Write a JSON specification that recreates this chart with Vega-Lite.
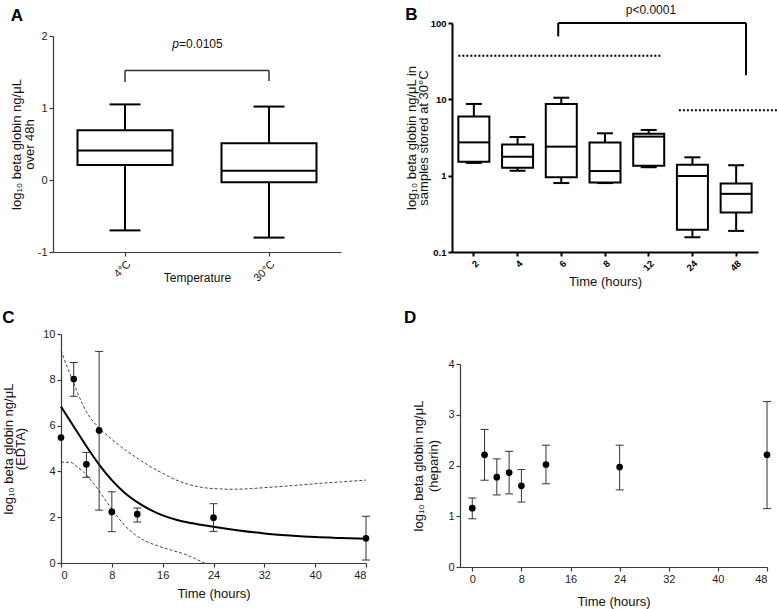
{
  "$schema": "https://vega.github.io/schema/vega-lite/v6.json",
  "padding": {"left": 2, "top": 3, "right": 2, "bottom": 2},
  "background": "white",
  "config": {
    "font": "Liberation Sans",
    "view": {"stroke": null},
    "axis": {"grid": false, "domainColor": "#3a3a3a", "tickColor": "#3a3a3a", "domainWidth": 1.2, "tickWidth": 1.2, "tickSize": 4, "labelColor": "#222", "titleColor": "#111", "labelFontSize": 11, "titleFontSize": 13, "titleFontWeight": "normal", "labelPadding": 2, "titleLineHeight": 12.5},
    "title": {"fontSize": 17, "fontWeight": "bold", "anchor": "start", "baseline": "bottom", "color": "black", "frame": "bounds"}
  },
  "vconcat": [
    {
      "concat": [
        {
          "width": 280, "height": 229,
          "title": {"text": "A", "offset": -1.5},
          "layer": [
            {
              "data": {"values": [
                {"temp": "4°C", "min": -0.7, "q1": 0.21, "median": 0.41, "q3": 0.69, "max": 1.05},
                {"temp": "30°C", "min": -0.8, "q1": -0.03, "median": 0.13, "q3": 0.51, "max": 1.02}
              ]},
              "layer": [
                {"mark": {"type": "rule", "color": "black", "strokeWidth": 2},
                 "encoding": {
                   "x": {"field": "temp", "type": "nominal", "scale": {"domain": ["4°C", "30°C"], "range": [-8, 280], "paddingInner": 0, "paddingOuter": 0}, "axis": {"labelAngle": -45, "title": "Temperature", "titleFontSize": 12, "titlePadding": -11}},
                   "y": {"field": "min", "type": "quantitative", "scale": {"domain": [-1, 2], "range": [229, 13], "nice": false}, "axis": {"offset": 8, "values": [-1, -0.5, 0, 0.5, 1, 1.5, 2], "title": ["log₁₀ beta globin ng/μL", "over 48h"], "titlePadding": 1, "labelExpr": "replace(format(datum.value, '~g'), '−', '-')"}},
                   "y2": {"field": "max"}}},
                {"mark": {"type": "bar", "fill": "white", "stroke": "black", "strokeWidth": 2, "size": 95},
                 "encoding": {"x": {"field": "temp", "type": "nominal"}, "y": {"field": "q1", "type": "quantitative"}, "y2": {"field": "q3"}}},
                {"mark": {"type": "tick", "color": "black", "size": 95, "thickness": 2, "opacity": 1},
                 "encoding": {"x": {"field": "temp", "type": "nominal"}, "y": {"field": "median", "type": "quantitative"}}},
                {"mark": {"type": "tick", "color": "black", "size": 31, "thickness": 2, "opacity": 1},
                 "encoding": {"x": {"field": "temp", "type": "nominal"}, "y": {"field": "min", "type": "quantitative"}}},
                {"mark": {"type": "tick", "color": "black", "size": 31, "thickness": 2, "opacity": 1},
                 "encoding": {"x": {"field": "temp", "type": "nominal"}, "y": {"field": "max", "type": "quantitative"}}}
              ]
            },
            {
              "data": {"values": [{"temp": "4°C", "lo": 1.36, "hi": 1.52}, {"temp": "30°C", "lo": 1.375, "hi": 1.52}]},
              "mark": {"type": "rule", "color": "#333", "strokeWidth": 1.5},
              "encoding": {"x": {"field": "temp", "type": "nominal"}, "y": {"field": "lo", "type": "quantitative"}, "y2": {"field": "hi"}}
            },
            {
              "data": {"values": [{"temp": "4°C", "temp2": "30°C", "lo": 1.52}]},
              "mark": {"type": "rule", "color": "#333", "strokeWidth": 1.5},
              "encoding": {"x": {"field": "temp", "type": "nominal"}, "x2": {"field": "temp2"}, "y": {"field": "lo", "type": "quantitative"}}
            },
            {
              "data": {"values": [{"temp": "4°C", "lo": 1.89, "label": "p", "rest": "=0.0105"}]},
              "layer": [
                {"mark": {"type": "text", "fontSize": 12, "fontStyle": "italic", "align": "right", "dx": -18, "color": "#111"},
                 "encoding": {"x": {"field": "temp", "type": "nominal", "bandPosition": 1}, "y": {"field": "lo", "type": "quantitative"}, "text": {"field": "label"}}},
                {"mark": {"type": "text", "fontSize": 12, "align": "left", "dx": -18, "color": "#111"},
                 "encoding": {"x": {"field": "temp", "type": "nominal", "bandPosition": 1}, "y": {"field": "lo", "type": "quantitative"}, "text": {"field": "rest"}}}
              ]
            }
          ]
        },
        {
          "width": 306, "height": 229,
          "title": {"text": "B", "offset": -20},
          "layer": [
            {
              "data": {"values": [
                {"hours": "2", "min": 1.47, "q1": 1.52, "median": 2.73, "q3": 5.94, "max": 8.7},
                {"hours": "4", "min": 1.16, "q1": 1.27, "median": 1.77, "q3": 2.57, "max": 3.21},
                {"hours": "6", "min": 0.8, "q1": 0.95, "median": 2.4, "q3": 8.7, "max": 10.5},
                {"hours": "8", "min": 0.8, "q1": 0.815, "median": 1.15, "q3": 2.71, "max": 3.59},
                {"hours": "12", "min": 1.29, "q1": 1.35, "median": 3.25, "q3": 3.55, "max": 3.97},
                {"hours": "24", "min": 0.156, "q1": 0.195, "median": 0.99, "q3": 1.39, "max": 1.74},
                {"hours": "48", "min": 0.189, "q1": 0.329, "median": 0.578, "q3": 0.79, "max": 1.37}
              ]},
              "layer": [
                {"mark": {"type": "rule", "color": "black", "strokeWidth": 2},
                 "encoding": {
                   "x": {"field": "hours", "type": "nominal", "scale": {"domain": ["2", "4", "6", "8", "12", "24", "48"], "paddingInner": 0, "paddingOuter": 0}, "axis": {"labelAngle": -45, "title": "Time (hours)", "titlePadding": 3, "labelFontWeight": "bold", "labelFontSize": 9.5, "labelColor": "black", "domainColor": "black", "tickColor": "black", "domainWidth": 2, "tickWidth": 2}},
                   "y": {"field": "min", "type": "quantitative", "scale": {"type": "log", "domain": [0.1, 100], "nice": false}, "axis": {"values": [0.1, 1, 10, 100], "labelExpr": "format(datum.value, '~g')", "title": ["log₁₀ beta globin ng/μL in", "samples stored at 30°C"], "titlePadding": 0, "titleLineHeight": 12, "labelFontWeight": "bold", "labelFontSize": 9.5, "labelColor": "black", "domainColor": "black", "tickColor": "black", "domainWidth": 2, "tickWidth": 2}},
                   "y2": {"field": "max"}}},
                {"mark": {"type": "bar", "fill": "white", "stroke": "black", "strokeWidth": 2, "size": 31},
                 "encoding": {"x": {"field": "hours", "type": "nominal"}, "y": {"field": "q1", "type": "quantitative"}, "y2": {"field": "q3"}}},
                {"mark": {"type": "tick", "color": "black", "size": 31, "thickness": 2, "opacity": 1},
                 "encoding": {"x": {"field": "hours", "type": "nominal"}, "y": {"field": "median", "type": "quantitative"}}},
                {"mark": {"type": "tick", "color": "black", "size": 16, "thickness": 2, "opacity": 1},
                 "encoding": {"x": {"field": "hours", "type": "nominal"}, "y": {"field": "min", "type": "quantitative"}}},
                {"mark": {"type": "tick", "color": "black", "size": 16, "thickness": 2, "opacity": 1},
                 "encoding": {"x": {"field": "hours", "type": "nominal"}, "y": {"field": "max", "type": "quantitative"}}}
              ]
            },
            {
              "data": {"values": [{"hours": "6", "lo": 66.8, "hi": 100}]},
              "mark": {"type": "rule", "color": "black", "strokeWidth": 2},
              "encoding": {"x": {"field": "hours", "type": "nominal", "bandPosition": 0.43}, "y": {"field": "lo", "type": "quantitative"}, "y2": {"field": "hi"}}
            },
            {
              "data": {"values": [{"hours": "48", "lo": 20.7, "hi": 100}]},
              "mark": {"type": "rule", "color": "black", "strokeWidth": 2},
              "encoding": {"x": {"field": "hours", "type": "nominal", "bandPosition": 0.725}, "y": {"field": "lo", "type": "quantitative"}, "y2": {"field": "hi"}}
            },
            {
              "data": {"values": [{"hours": "6", "hours2": "48", "lo": 100}]},
              "mark": {"type": "rule", "color": "black", "strokeWidth": 2},
              "encoding": {"x": {"field": "hours", "type": "nominal", "bandPosition": 0.43}, "x2": {"field": "hours2", "bandPosition": 0.725}, "y": {"field": "lo", "type": "quantitative"}}
            },
            {
              "data": {"values": [{"hours": "2", "hours2": "12", "lo": 37.1}]},
              "mark": {"type": "rule", "color": "black", "strokeWidth": 2, "strokeDash": [2, 2]},
              "encoding": {"x": {"field": "hours", "type": "nominal", "bandPosition": 0.145}, "x2": {"field": "hours2", "bandPosition": 0.77}, "y": {"field": "lo", "type": "quantitative"}}
            },
            {
              "data": {"values": [{"hours": "24", "hours2": "48", "lo": 7.17}]},
              "mark": {"type": "rule", "color": "black", "strokeWidth": 2, "strokeDash": [2, 2]},
              "encoding": {"x": {"field": "hours", "type": "nominal", "bandPosition": 0.19}, "x2": {"field": "hours2", "bandPosition": 1.46}, "y": {"field": "lo", "type": "quantitative"}}
            },
            {
              "data": {"values": [{"hours": "12", "lo": 150, "label": "p<0.0001"}]},
              "mark": {"type": "text", "fontSize": 12, "align": "center", "baseline": "middle", "color": "#111"},
              "encoding": {"x": {"field": "hours", "type": "nominal", "bandPosition": 0.55}, "y": {"field": "lo", "type": "quantitative"}, "text": {"field": "label"}}
            }
          ]
        }
      ],
      "columns": 2,
      "align": "none",
      "spacing": 56
    },
    {
      "concat": [
        {
          "width": 305, "height": 229,
          "title": {"text": "C", "offset": 1},
          "layer": [
            {
              "data": {"values": [
                {"t": 0, "v": 9.28}, {"t": 2, "v": 7.85}, {"t": 4, "v": 6.6}, {"t": 6, "v": 5.9}, {"t": 8, "v": 5.4}, {"t": 10, "v": 4.96}, {"t": 12, "v": 4.58}, {"t": 14, "v": 4.22}, {"t": 16, "v": 3.92}, {"t": 18, "v": 3.64}, {"t": 20, "v": 3.44}, {"t": 22, "v": 3.31}, {"t": 24, "v": 3.25}, {"t": 27, "v": 3.22}, {"t": 30, "v": 3.25}, {"t": 32, "v": 3.29}, {"t": 36, "v": 3.37}, {"t": 40, "v": 3.46}, {"t": 44, "v": 3.54}, {"t": 48, "v": 3.62}
              ]},
              "mark": {"type": "line", "interpolate": "monotone", "color": "#444", "strokeWidth": 1, "strokeDash": [3, 2]},
              "encoding": {
                "x": {"field": "t", "type": "quantitative", "scale": {"domain": [0, 48], "nice": false}, "axis": {"values": [0, 8, 16, 24, 32, 40, 48], "title": "Time (hours)", "labelAngle": 0, "titlePadding": 7}},
                "y": {"field": "v", "type": "quantitative", "scale": {"domain": [0, 10], "nice": false}, "axis": {"values": [0, 2, 4, 6, 8, 10], "title": ["log₁₀ beta globin ng/μL", "(EDTA)"], "titlePadding": 15}}
              }
            },
            {
              "data": {"values": [
                {"t": 0, "v": 4.4}, {"t": 1.4, "v": 4.4}, {"t": 2.7, "v": 4.17}, {"t": 4, "v": 3.85}, {"t": 4.8, "v": 3.58}, {"t": 6, "v": 3.15}, {"t": 6.9, "v": 2.78}, {"t": 8, "v": 2.35}, {"t": 9, "v": 1.98}, {"t": 10, "v": 1.65}, {"t": 11.6, "v": 1.25}, {"t": 13, "v": 1.0}, {"t": 15.3, "v": 0.74}, {"t": 17.5, "v": 0.55}, {"t": 19.5, "v": 0.38}, {"t": 21, "v": 0.2}, {"t": 22.6, "v": 0.0}
              ]},
              "mark": {"type": "line", "interpolate": "monotone", "color": "#444", "strokeWidth": 1, "strokeDash": [3, 2]},
              "encoding": {"x": {"field": "t", "type": "quantitative"}, "y": {"field": "v", "type": "quantitative"}}
            },
            {
              "data": {"values": [
                {"t": 0, "v": 6.83}, {"t": 2, "v": 5.96}, {"t": 4, "v": 5.1}, {"t": 6, "v": 4.3}, {"t": 8, "v": 3.62}, {"t": 10, "v": 3.07}, {"t": 12, "v": 2.66}, {"t": 14, "v": 2.33}, {"t": 16, "v": 2.08}, {"t": 18, "v": 1.9}, {"t": 20, "v": 1.77}, {"t": 22, "v": 1.67}, {"t": 24, "v": 1.58}, {"t": 28, "v": 1.42}, {"t": 32, "v": 1.29}, {"t": 36, "v": 1.2}, {"t": 40, "v": 1.13}, {"t": 44, "v": 1.09}, {"t": 48, "v": 1.06}
              ]},
              "mark": {"type": "line", "interpolate": "monotone", "color": "black", "strokeWidth": 2},
              "encoding": {"x": {"field": "t", "type": "quantitative"}, "y": {"field": "v", "type": "quantitative"}}
            },
            {
              "data": {"values": [
                {"t": 2, "v": 8.03, "lo": 7.28, "hi": 8.76},
                {"t": 4, "v": 4.31, "lo": 3.74, "hi": 4.83},
                {"t": 6, "v": 5.79, "lo": 2.31, "hi": 9.24},
                {"t": 8, "v": 2.23, "lo": 1.37, "hi": 3.11},
                {"t": 12, "v": 2.13, "lo": 1.79, "hi": 2.4},
                {"t": 24, "v": 1.98, "lo": 1.38, "hi": 2.59},
                {"t": 48, "v": 1.08, "lo": 0.13, "hi": 2.04}
              ]},
              "layer": [
                {"mark": {"type": "rule", "color": "#333", "strokeWidth": 1},
                 "encoding": {"x": {"field": "t", "type": "quantitative"}, "y": {"field": "lo", "type": "quantitative"}, "y2": {"field": "hi"}}},
                {"mark": {"type": "tick", "orient": "horizontal", "color": "#333", "size": 8, "thickness": 1, "opacity": 1},
                 "encoding": {"x": {"field": "t", "type": "quantitative"}, "y": {"field": "lo", "type": "quantitative"}}},
                {"mark": {"type": "tick", "orient": "horizontal", "color": "#333", "size": 8, "thickness": 1, "opacity": 1},
                 "encoding": {"x": {"field": "t", "type": "quantitative"}, "y": {"field": "hi", "type": "quantitative"}}}
              ]
            },
            {
              "data": {"values": [
                {"t": 0, "v": 5.48}, {"t": 2, "v": 8.03}, {"t": 4, "v": 4.31}, {"t": 6, "v": 5.79}, {"t": 8, "v": 2.23}, {"t": 12, "v": 2.13}, {"t": 24, "v": 1.98}, {"t": 48, "v": 1.08}
              ]},
              "mark": {"type": "circle", "color": "black", "size": 45, "opacity": 1},
              "encoding": {"x": {"field": "t", "type": "quantitative"}, "y": {"field": "v", "type": "quantitative"}}
            }
          ]
        },
        {
          "width": 307, "height": 233,
          "title": {"text": "D", "offset": 7.5, "dx": -9},
          "data": {"values": [
            {"t": 0, "v": 1.16, "lo": 0.95, "hi": 1.36},
            {"t": 2, "v": 2.21, "lo": 1.71, "hi": 2.71},
            {"t": 4, "v": 1.77, "lo": 1.42, "hi": 2.13},
            {"t": 6, "v": 1.86, "lo": 1.44, "hi": 2.28},
            {"t": 8, "v": 1.6, "lo": 1.28, "hi": 1.92},
            {"t": 12, "v": 2.02, "lo": 1.64, "hi": 2.4},
            {"t": 24, "v": 1.97, "lo": 1.52, "hi": 2.4},
            {"t": 48, "v": 2.21, "lo": 1.15, "hi": 3.26}
          ]},
          "layer": [
            {"mark": {"type": "rule", "color": "#333", "strokeWidth": 1},
             "encoding": {
               "x": {"field": "t", "type": "quantitative", "scale": {"domain": [-2, 48], "nice": false}, "axis": {"values": [0, 8, 16, 24, 32, 40, 48], "title": "Time (hours)", "labelAngle": 0, "titlePadding": 11}},
               "y": {"field": "lo", "type": "quantitative", "scale": {"domain": [0, 4], "range": [233, 30], "nice": false}, "axis": {"values": [0, 1, 2, 3, 4], "labelExpr": "format(datum.value, '~g')", "title": ["log₁₀ beta globin ng/μL", "(heparin)"], "titlePadding": 7, "titleLineHeight": 15}},
               "y2": {"field": "hi"}}},
            {"mark": {"type": "tick", "orient": "horizontal", "color": "#333", "size": 8, "thickness": 1, "opacity": 1},
             "encoding": {"x": {"field": "t", "type": "quantitative"}, "y": {"field": "lo", "type": "quantitative"}}},
            {"mark": {"type": "tick", "orient": "horizontal", "color": "#333", "size": 8, "thickness": 1, "opacity": 1},
             "encoding": {"x": {"field": "t", "type": "quantitative"}, "y": {"field": "hi", "type": "quantitative"}}},
            {"mark": {"type": "circle", "color": "black", "size": 45, "opacity": 1},
             "encoding": {"x": {"field": "t", "type": "quantitative"}, "y": {"field": "v", "type": "quantitative"}}}
          ]
        }
      ],
      "columns": 2,
      "align": "none",
      "spacing": 33
    }
  ],
  "spacing": 19
}
